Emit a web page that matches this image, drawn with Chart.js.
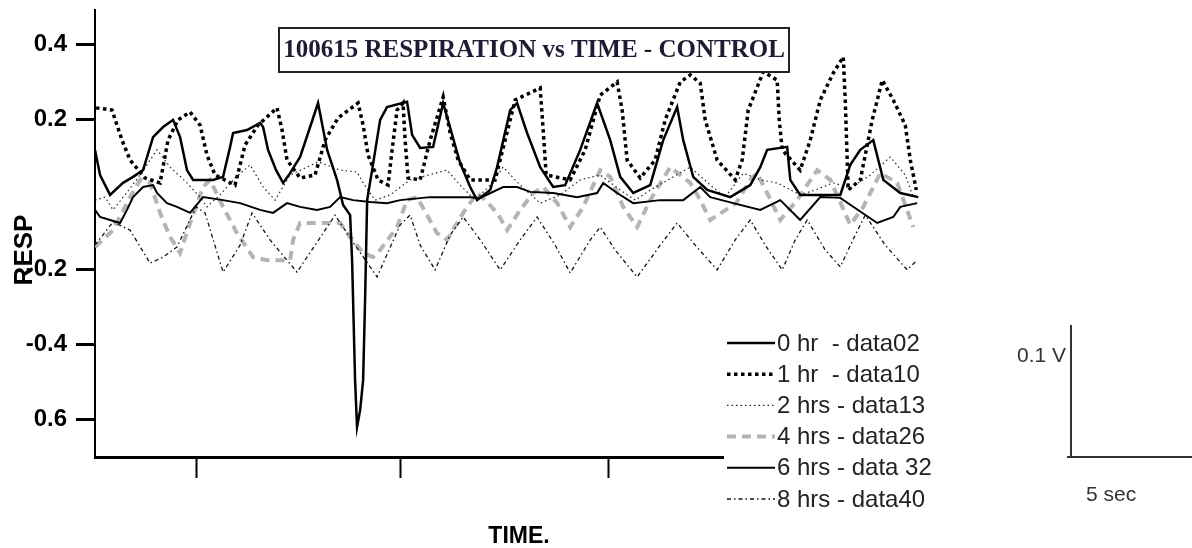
<!DOCTYPE html>
<html>
<head>
<meta charset="utf-8">
<script src="https://cdn.jsdelivr.net/npm/chart.js@4/dist/chart.umd.min.js"></script>
<style>
    html, body { margin: 0; padding: 0; background: #fff; }
    #wrap { width: 1192px; height: 548px; }
</style>
</head>
<body>
<div id="wrap"><canvas id="respChart" width="1192" height="548"></canvas></div>
<script>
// [time, resp] pairs
const hr0 = [[0,0.119],[0.49,0.052],[1.46,-0.001],[2.72,0.031],[3.69,0.047],[4.66,0.065],[5.63,0.153],[6.60,0.180],[7.57,0.199],[8.25,0.153],[8.92,0.065],[9.51,0.039],[11.45,0.039],[12.42,0.047],[13.10,0.127],[13.39,0.164],[14.74,0.172],[16.01,0.191],[16.30,0.180],[16.78,0.119],[17.56,0.065],[18.24,0.031],[18.92,0.057],[19.89,0.100],[20.86,0.180],[21.63,0.244],[22.51,0.119],[23.47,0.039],[24.06,-0.028],[24.74,-0.055],[24.93,-0.175],[25.22,-0.495],[25.41,-0.620],[25.71,-0.575],[26.00,-0.495],[26.19,-0.281],[26.39,-0.015],[26.87,0.065],[27.65,0.199],[28.32,0.233],[30.26,0.247],[30.75,0.159],[31.53,0.124],[32.79,0.127],[33.76,0.244],[35.41,0.084],[36.38,0.020],[37.05,-0.015],[38.32,0.012],[38.99,0.073],[40.26,0.225],[40.93,0.244],[41.90,0.164],[43.17,0.073],[44.43,0.020],[45.59,0.025],[47.05,0.119],[48.69,0.244],[49.96,0.145],[50.93,0.047],[52.19,0.004],[53.84,0.025],[55.10,0.145],[56.45,0.233],[57.04,0.145],[58.01,0.047],[59.37,0.012],[61.60,-0.007],[63.54,0.025],[64.51,0.073],[65.18,0.119],[67.12,0.127],[67.42,0.039],[68.38,-0.001],[72.27,-0.001],[73.24,0.079],[74.21,0.119],[75.47,0.145],[76.44,0.039],[78.09,0.004],[79.83,-0.007]];

const hr1 = [[0.10,0.231],[1.65,0.225],[2.62,0.145],[3.40,0.092],[4.85,0.044],[6.31,0.031],[7.08,0.145],[8.05,0.199],[9.22,0.220],[10.19,0.185],[10.86,0.105],[11.64,0.052],[13.58,0.025],[14.55,0.132],[15.81,0.185],[17.65,0.231],[18.14,0.172],[18.62,0.092],[19.89,0.044],[21.34,0.052],[22.31,0.145],[23.57,0.204],[25.51,0.244],[26.00,0.185],[26.48,0.105],[27.45,0.039],[28.42,0.025],[28.81,0.119],[29.29,0.225],[29.87,0.244],[30.07,0.145],[30.36,0.044],[31.53,0.039],[32.50,0.145],[33.76,0.260],[34.44,0.164],[35.21,0.092],[36.38,0.039],[38.80,0.039],[39.77,0.145],[40.74,0.252],[43.17,0.284],[43.46,0.172],[43.75,0.052],[46.08,0.039],[47.53,0.119],[48.99,0.265],[50.63,0.300],[51.12,0.225],[51.60,0.092],[52.87,0.044],[54.32,0.092],[55.29,0.199],[56.75,0.300],[57.72,0.319],[58.69,0.297],[59.17,0.199],[60.33,0.092],[62.08,0.039],[62.76,0.092],[63.34,0.225],[64.80,0.327],[66.15,0.305],[66.35,0.199],[66.64,0.119],[68.38,0.065],[69.36,0.145],[70.33,0.252],[71.59,0.324],[72.56,0.367],[72.75,0.252],[73.04,0.012],[74.21,0.039],[75.37,0.199],[76.34,0.305],[77.41,0.252],[78.57,0.185],[79.06,0.092],[79.64,0.012]];

const hr2 = [[0,-0.015],[0.97,-0.007],[1.75,-0.041],[2.91,-0.001],[4.37,0.052],[6.01,0.119],[7.28,0.073],[8.92,0.031],[10.19,-0.007],[10.86,-0.033],[12.13,-0.001],[13.58,0.044],[15.04,0.079],[16.30,0.020],[17.46,-0.015],[18.92,0.052],[21.63,0.087],[23.77,0.065],[25.41,0.060],[26.00,0.031],[27.16,-0.015],[28.62,-0.001],[30.56,0.039],[34.14,0.065],[35.41,0.025],[36.86,-0.015],[38.32,0.025],[39.58,0.073],[41.23,0.025],[43.17,-0.023],[45.11,-0.001],[47.05,0.039],[48.99,0.052],[50.93,0.012],[52.38,-0.015],[53.84,0.012],[57.72,0.073],[59.66,0.025],[61.11,-0.007],[62.86,0.057],[64.51,0.039],[66.15,0.031],[68.38,-0.001],[69.84,0.012],[71.59,0.031],[73.24,0.017],[75.18,0.052],[77.12,0.100],[78.57,0.052],[79.35,-0.007]];

const hr4 = [[0,-0.140],[1.75,-0.095],[3.40,-0.007],[4.37,0.039],[5.34,0.031],[6.31,-0.049],[7.28,-0.113],[8.25,-0.156],[9.22,-0.076],[10.48,0.020],[11.16,0.039],[12.42,-0.033],[13.77,-0.103],[15.33,-0.167],[16.68,-0.175],[18.92,-0.175],[19.21,-0.121],[19.89,-0.076],[23.77,-0.076],[24.44,-0.103],[26.00,-0.156],[26.97,-0.167],[27.65,-0.148],[29.29,-0.087],[30.26,-0.015],[31.23,-0.007],[33.17,-0.103],[34.14,-0.121],[35.70,-0.049],[37.05,0.004],[37.83,-0.015],[38.99,-0.049],[39.96,-0.095],[41.23,-0.041],[42.49,0.004],[43.46,0.020],[44.82,-0.023],[46.08,-0.087],[47.34,-0.033],[48.99,0.065],[49.96,0.047],[51.22,-0.033],[52.57,-0.087],[53.84,-0.015],[55.78,0.073],[57.72,0.031],[58.69,-0.015],[59.66,-0.068],[62.18,-0.023],[63.54,0.039],[64.21,0.057],[65.18,0.004],[66.45,-0.068],[68.09,-0.015],[70.03,0.065],[71.30,0.039],[73.24,-0.081],[74.50,-0.033],[76.15,0.057],[77.79,0.031],[79.35,-0.087]];

const hr6 = [[0,-0.041],[0.49,-0.060],[1.46,-0.068],[2.43,-0.076],[3.10,-0.041],[3.69,-0.007],[4.66,0.020],[5.63,0.025],[6.01,0.004],[6.98,-0.023],[7.95,-0.033],[9.22,-0.049],[10.48,-0.007],[12.42,-0.015],[14.07,-0.023],[16.01,-0.041],[17.27,-0.049],[18.62,-0.023],[19.89,-0.033],[21.53,-0.041],[22.80,-0.033],[23.77,-0.007],[25.03,-0.015],[26.68,-0.020],[28.32,-0.023],[29.59,-0.015],[32.50,-0.007],[36.38,-0.007],[37.35,-0.009],[39.58,0.020],[40.93,0.020],[42.20,0.007],[44.43,0.004],[46.75,-0.007],[48.69,0.004],[49.28,0.031],[50.63,0.004],[52.19,-0.023],[54.81,-0.015],[57.04,-0.015],[58.69,0.020],[59.66,-0.007],[61.89,-0.023],[64.51,-0.041],[66.45,-0.015],[68.38,-0.068],[70.33,-0.007],[72.27,-0.009],[75.85,-0.076],[77.41,-0.060],[78.09,-0.033],[79.73,-0.023]];

const hr8 = [[0,-0.135],[1.75,-0.073],[3.40,-0.095],[5.34,-0.183],[6.60,-0.167],[7.95,-0.140],[9.80,-0.033],[10.67,-0.049],[12.42,-0.207],[14.07,-0.135],[15.23,-0.049],[16.97,-0.121],[19.59,-0.207],[21.34,-0.135],[23.28,-0.055],[25.22,-0.135],[27.35,-0.220],[29.59,-0.081],[30.56,-0.055],[31.53,-0.135],[32.98,-0.201],[34.44,-0.108],[35.70,-0.060],[37.35,-0.121],[39.29,-0.201],[41.23,-0.121],[42.87,-0.060],[44.62,-0.135],[46.08,-0.209],[48.02,-0.121],[48.99,-0.087],[50.44,-0.148],[52.57,-0.220],[54.81,-0.135],[56.45,-0.076],[58.20,-0.135],[60.33,-0.201],[62.08,-0.121],[63.54,-0.068],[64.99,-0.135],[66.64,-0.201],[67.90,-0.121],[69.06,-0.068],[70.81,-0.148],[72.27,-0.193],[73.72,-0.108],[74.69,-0.055],[76.63,-0.135],[78.76,-0.201],[79.54,-0.180]];

const seriesLabels = ["0 hr  - data02", "1 hr  - data10", "2 hrs - data13", "4 hrs - data26", "6 hrs - data 32", "8 hrs - data40"];
const yTickValues = [0.4, 0.2, -0.2, -0.4, -0.6];
const yTickLabels = ["0.4", "0.2", "-0.2", "-0.4", "0.6"];
const xTickValues = [9.8, 29.6, 49.8, 69.8];
const chartTitle = "100615 RESPIRATION vs TIME - CONTROL";

const toXY = (arr) => arr.map(([t, v]) => ({ x: t, y: v }));

const styles = [
    { data: hr0, color: "#000", width: 2.5, dash: [], order: 0 },
    { data: hr1, color: "#000", width: 3.5, dash: [3.5, 3.5], order: 2 },
    { data: hr2, color: "#222", width: 1.2, dash: [1.5, 3], order: 4 },
    { data: hr4, color: "#b4b4b4", width: 4, dash: [9, 6], order: 6 },
    { data: hr6, color: "#000", width: 2, dash: [], order: 1 },
    { data: hr8, color: "#111", width: 1.3, dash: [4, 3, 1.5, 3], order: 5 },
];

const SANS = "'Liberation Sans', Arial, sans-serif";

const decorPlugin = {
    id: "decor",
    afterDraw(chart) {
        const { ctx } = chart;
        ctx.save();

        // title box
        ctx.fillStyle = "#fff";
        ctx.fillRect(278, 27, 512, 46);
        ctx.strokeStyle = "#222";
        ctx.lineWidth = 2;
        ctx.strokeRect(279, 28, 510, 44);
        ctx.fillStyle = "#1c1c34";
        ctx.font = "bold 25px 'Liberation Serif', 'Times New Roman', serif";
        ctx.textAlign = "center";
        ctx.textBaseline = "middle";
        ctx.fillText(chartTitle, 534, 51);

        // legend
        ctx.fillStyle = "#fff";
        ctx.fillRect(724, 326, 222, 190);
        ctx.font = "24px " + SANS;
        ctx.textAlign = "left";
        chart.data.datasets.forEach((ds, i) => {
            const y = 343 + i * 31.2;
            ctx.beginPath();
            ctx.strokeStyle = ds.borderColor;
            ctx.lineWidth = ds.borderWidth;
            ctx.setLineDash(ds.borderDash);
            ctx.moveTo(727, y);
            ctx.lineTo(775, y);
            ctx.stroke();
            ctx.setLineDash([]);
            ctx.fillStyle = "#222";
            ctx.fillText(ds.label, 777, y + 1);
        });

        // scale bar
        ctx.strokeStyle = "#333";
        ctx.lineWidth = 2;
        ctx.beginPath();
        ctx.moveTo(1071, 325);
        ctx.lineTo(1071, 457);
        ctx.moveTo(1067, 457);
        ctx.lineTo(1192, 457);
        ctx.stroke();
        ctx.fillStyle = "#333";
        ctx.font = "21px " + SANS;
        ctx.fillText("0.1 V", 1017, 356);
        ctx.fillText("5 sec", 1086, 495);

        // axis titles
        ctx.fillStyle = "#000";
        ctx.font = "bold 23px " + SANS;
        ctx.textAlign = "center";
        ctx.fillText("TIME.", 519, 537);
        ctx.translate(25, 250);
        ctx.rotate(-Math.PI / 2);
        ctx.font = "bold 26px " + SANS;
        ctx.fillText("RESP", 0, 0);

        ctx.restore();
    },
};

new Chart(document.getElementById("respChart"), {
    type: "line",

    data: {
        datasets: styles.map((s, i) => ({
            label: seriesLabels[i],
            data: toXY(s.data),
            borderColor: s.color,
            borderWidth: s.width,
            borderDash: s.dash,
            order: s.order,
            pointRadius: 0,
            tension: 0,
            fill: false,
        })),
    },

    options: {
        responsive: false,
        animation: false,
        devicePixelRatio: 1,

        layout: {
            padding: { left: 0, top: 10, right: 272, bottom: 0 },
        },

        plugins: {
            legend: { display: false },
            tooltip: { enabled: false },
        },

        scales: {
            x: {
                type: "linear",
                min: 0,
                max: 80,
                afterBuildTicks: (s) => {
                    s.ticks = xTickValues.map((v) => ({ value: v }));
                },
                afterFit: (s) => {
                    s.height = 91;
                    s.paddingLeft = 0;
                    s.paddingRight = 0;
                },
                ticks: { display: false },
                grid: {
                    drawOnChartArea: false,
                    drawTicks: true,
                    tickLength: 21,
                    tickWidth: 2,
                    tickColor: "#000",
                },
                border: { color: "#000", width: 3 },
            },

            y: {
                min: -0.7,
                max: 0.492,
                afterBuildTicks: (s) => {
                    s.ticks = yTickValues.map((v) => ({ value: v }));
                },
                afterFit: (s) => {
                    s.width = 95;
                    s.paddingTop = 0;
                    s.paddingBottom = 0;
                },
                ticks: {
                    padding: 9,
                    color: "#000",
                    font: { family: SANS, size: 24, weight: "bold" },
                    callback: (v) => yTickLabels[yTickValues.indexOf(v)] ?? "",
                },
                grid: {
                    drawOnChartArea: false,
                    drawTicks: true,
                    tickLength: 19,
                    tickWidth: 3,
                    tickColor: "#000",
                },
                border: { color: "#000", width: 2 },
            },
        },
    },

    plugins: [decorPlugin],
});
</script>
</body>
</html>
